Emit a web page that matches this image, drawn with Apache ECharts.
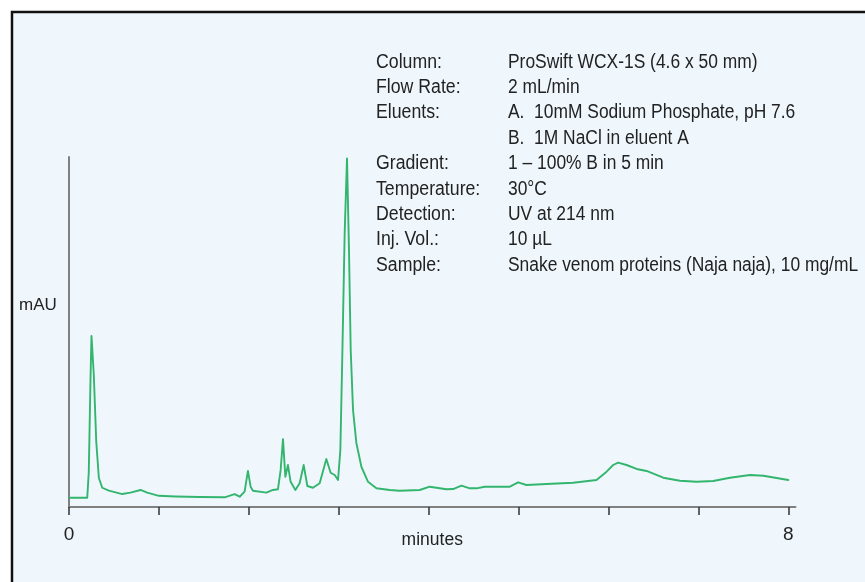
<!DOCTYPE html>
<html>
<head>
<meta charset="utf-8">
<script src="https://cdn.jsdelivr.net/npm/echarts@6/dist/echarts.min.js"></script>
<style>
html,body{margin:0;padding:0;background:#ffffff;}
#chart{width:865px;height:582px;}
</style>
</head>
<body>
<div id="chart"></div>
<script>
// Retention time (minutes)
const timeMin = [0, 0.203, 0.220, 0.239, 0.250, 0.276, 0.303, 0.332, 0.370, 0.443, 0.518, 0.592, 0.684, 0.796, 0.870, 0.999, 1.185, 1.452, 1.731, 1.842, 1.898, 1.953, 1.990, 2.020, 2.046, 2.195, 2.268, 2.324, 2.354, 2.380, 2.406, 2.435, 2.465, 2.518, 2.565, 2.610, 2.651, 2.713, 2.788, 2.862, 2.910, 2.955, 2.992, 3.018, 3.041, 3.066, 3.092, 3.114, 3.133, 3.159, 3.196, 3.252, 3.326, 3.419, 3.567, 3.678, 3.901, 4.012, 4.198, 4.272, 4.365, 4.457, 4.532, 4.624, 4.903, 4.995, 5.088, 5.311, 5.607, 5.867, 5.979, 6.052, 6.108, 6.201, 6.313, 6.424, 6.609, 6.795, 6.980, 7.165, 7.351, 7.574, 7.722, 8.0];
// Detector response (mAU, relative)
const absorbance = [2.66, 2.66, 10.0, 36.3, 48.9, 37.7, 18.7, 8.3, 5.5, 4.66, 4.2, 3.7, 4.1, 4.86, 4.1, 3.2, 3.0, 2.86, 2.77, 3.7, 2.94, 4.37, 10.3, 5.8, 4.66, 4.1, 4.86, 5.06, 10.6, 19.4, 8.66, 12.0, 7.2, 4.86, 6.8, 12.0, 6.0, 5.5, 6.8, 13.7, 9.8, 9.14, 7.7, 16.3, 44.9, 78.3, 99.6, 73.4, 44.9, 27.7, 18.3, 11.5, 7.2, 5.34, 4.86, 4.66, 4.86, 5.8, 5.06, 5.14, 6.09, 5.34, 5.34, 5.8, 5.8, 7.06, 6.29, 6.57, 6.94, 7.71, 10.1, 12.0, 12.66, 12.0, 10.86, 10.3, 8.37, 7.51, 7.23, 7.43, 8.37, 9.14, 8.94, 7.71];
// Axis ticks and labels
const xTickValues = [0, 1, 2, 3, 4, 5, 6, 7, 8];
const xLabelValues = [0, 8];
// Method conditions
const infoLabels = ['Column:', 'Flow Rate:', 'Eluents:', '', 'Gradient:', 'Temperature:', 'Detection:', 'Inj. Vol.:', 'Sample:'];
const infoValues = ['ProSwift WCX-1S (4.6 x 50 mm)', '2 mL/min', 'A.  10mM Sodium Phosphate, pH 7.6', 'B.  1M NaCl in eluent A', '1 \u2013 100% B in 5 min', '30\u00B0C', 'UV at 214 nm', '10 \u00B5L', 'Snake venom proteins (Naja naja), 10 mg/mL'];

const FONT = '"Liberation Sans", Arial, Helvetica, sans-serif';
const chart = echarts.init(document.getElementById('chart'), null, {renderer: 'canvas'});

const seriesData = timeMin.map((t, i) => [t, absorbance[i]]);

const infoElements = [];
infoLabels.forEach((lab, i) => {
  const y = 62 + i * 25.4;
  if (lab) {
    infoElements.push({
      type: 'text', x: 376, y: y, scaleX: 0.885, z: 10,
      style: {text: lab, fill: '#222222', font: '20px ' + FONT, textVerticalAlign: 'middle', textAlign: 'left'}
    });
  }
  infoElements.push({
    type: 'text', x: 508, y: y, scaleX: 0.87, z: 10,
    style: {text: infoValues[i], fill: '#222222', font: '20px ' + FONT, textVerticalAlign: 'middle', textAlign: 'left'}
  });
});

const option = {
  backgroundColor: '#ffffff',
  animation: false,
  graphic: [
    {
      type: 'rect', z: -10, silent: true,
      shape: {x: 12, y: 12, width: 870, height: 590},
      style: {fill: '#eff7fd', stroke: '#111111', lineWidth: 2.5}
    },
    {
      type: 'text', x: 38, y: 305, z: 10,
      style: {text: 'mAU', fill: '#222222', font: '17px ' + FONT, textAlign: 'center', textVerticalAlign: 'middle'}
    }
  ].concat(infoElements),
  grid: {left: 69, right: 69.5, top: 157, bottom: 75, containLabel: false},
  xAxis: {
    type: 'value', min: 0, max: 8.08,
    name: 'minutes', nameLocation: 'middle', nameGap: 24, nameMoveOverlap: false,
    nameTextStyle: {fontFamily: FONT, fontSize: 17.5, color: '#222222', verticalAlign: 'top'},
    axisLine: {show: true, onZero: false, lineStyle: {color: '#808080', width: 2}},
    axisTick: {show: true, customValues: xTickValues, length: 8, lineStyle: {color: '#333333', width: 1.5}},
    axisLabel: {show: true, customValues: xLabelValues, margin: 18, fontFamily: FONT, fontSize: 19, color: '#222222'},
    splitLine: {show: false}
  },
  yAxis: {
    type: 'value', min: 0, max: 100,
    axisLine: {show: true, lineStyle: {color: '#808080', width: 2}},
    axisTick: {show: false},
    axisLabel: {show: false},
    splitLine: {show: false}
  },
  series: [{
    type: 'line',
    data: seriesData,
    showSymbol: false,
    smooth: false,
    lineStyle: {color: '#33b56e', width: 1.9, join: 'round', cap: 'round'},
    z: 3
  }]
};
chart.setOption(option);
</script>
</body>
</html>
